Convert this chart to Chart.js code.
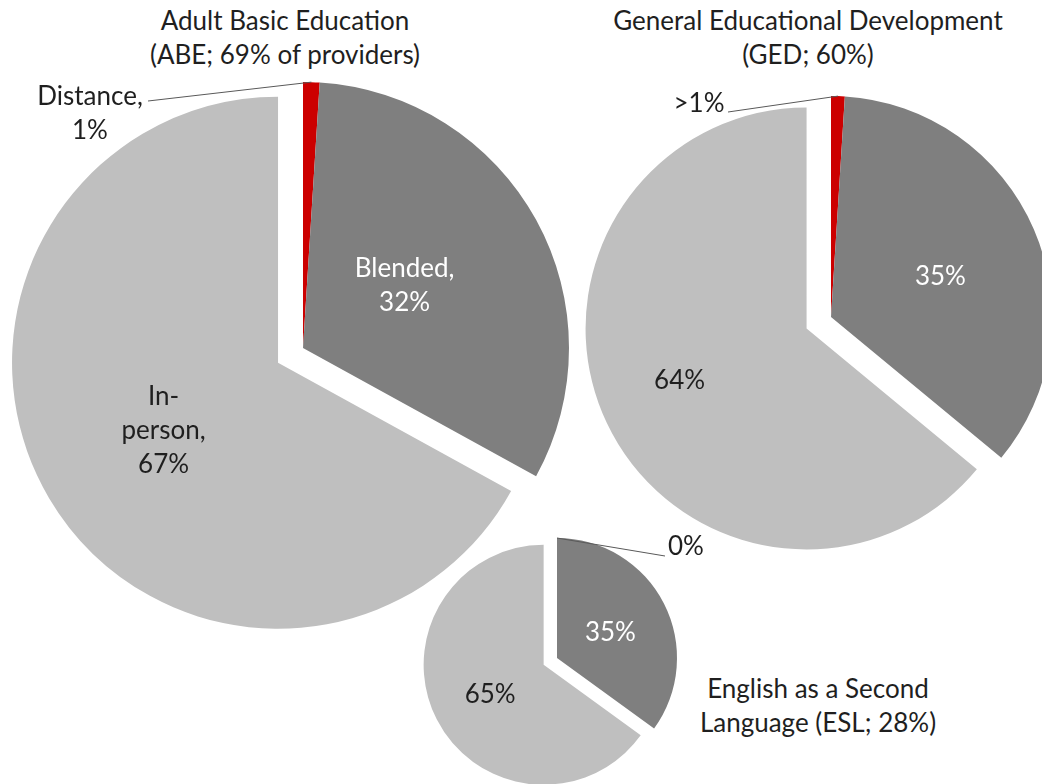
<!DOCTYPE html>
<html>
<head>
<meta charset="utf-8">
<script src="https://cdn.jsdelivr.net/npm/chart.js@4"></script>
<style>
	html, body { margin: 0; padding: 0; background: #fff; }
	body { position: relative; width: 1042px; height: 784px; overflow: hidden; font-family: Lato, "Open Sans", sans-serif; }
	canvas { position: absolute; }
	.title { position: absolute; width: 520px; text-align: center; font-size: 26px; line-height: 34px; color: #1f1f1f; white-space: nowrap; }
</style>
</head>
<body>
<div class="title" id="t-abe"></div>
<div class="title" id="t-ged"></div>
<div class="title" id="t-esl"></div>
<canvas id="abe" width="640" height="640"></canvas>
<canvas id="ged" width="520" height="520"></canvas>
<canvas id="esl" width="340" height="300"></canvas>
<script>
// delivery mode, same order in every pie
const modes = ["Distance", "Blended", "In-person"];

const abeValues = [1, 32, 67];
const gedValues = [1, 35, 64];
const eslValues = [0, 35, 65];

const abeText = [["Distance,", "1%"], ["Blended,", "32%"], ["In-", "person,", "67%"]];
const gedText = [[">1%"], ["35%"], ["64%"]];
const eslText = [["0%"], ["35%"], ["65%"]];

const abeTitle = ["Adult Basic Education", "(ABE; 69% of providers)"];
const gedTitle = ["General Educational Development", "(GED; 60%)"];
const eslTitle = ["English as a Second", "Language (ESL; 28%)"];

const colors = ["#cc0000", "#7f7f7f", "#bfbfbf"];
const textColors = ["#1f1f1f", "#ffffff", "#1f1f1f"];
const FONT = "26px Lato, 'Open Sans', sans-serif";
const LINE = 34;

// pull the exploded slice away from the centre (Chart.js offset also grows the radius)
const explodePlugin = {
	id: "explode",
	afterDatasetsUpdate(chart, args, opts) {
		const meta = chart.getDatasetMeta(0);
		(opts.shift || []).forEach(function(d, i) {
			const arc = meta.data[i];
			if (!d || !arc) return;
			const mid = (arc.startAngle + arc.endAngle) / 2;
			arc.x += Math.cos(mid) * d;
			arc.y += Math.sin(mid) * d;
		});
	}
};

const labelPlugin = {
	id: "sliceLabels",
	afterDatasetsDraw(chart, args, opts) {
		const ctx = chart.ctx;
		const meta = chart.getDatasetMeta(0);
		ctx.save();
		ctx.font = FONT;
		ctx.textAlign = "center";
		ctx.textBaseline = "middle";
		opts.text.forEach(function(lines, i) {
			const arc = meta.data[i];
			if (!arc) return;
			let x, y, color = textColors[i];
			const out = opts.outside && opts.outside[i];
			if (out) {
				const mid = (arc.startAngle + arc.endAngle) / 2;
				const ax = arc.x + Math.cos(mid) * arc.outerRadius;
				const ay = arc.y + Math.sin(mid) * arc.outerRadius;
				const cx = chart.width / 2, cy = chart.height / 2;
				ctx.strokeStyle = "#595959";
				ctx.lineWidth = 1;
				ctx.beginPath();
				ctx.moveTo(cx + out.lx, cy + out.ly);
				ctx.lineTo(ax, ay);
				ctx.stroke();
				x = cx + out.dx;
				y = cy + out.dy;
				color = "#1f1f1f";
			} else {
				const p = arc.tooltipPosition();
				const n = (opts.nudge && opts.nudge[i]) || [0, 0];
				x = p.x + n[0];
				y = p.y + n[1];
			}
			ctx.fillStyle = color;
			lines.forEach(function(s, k) {
				ctx.fillText(s, x, y + (k - (lines.length - 1) / 2) * LINE);
			});
		});
		ctx.restore();
	}
};

const makePie = function({id, cx, cy, radius, values, text, shift, outside, nudge}) {
	const canvas = document.getElementById(id);
	canvas.style.left = (cx - canvas.width / 2) + "px";
	canvas.style.top = (cy - canvas.height / 2) + "px";
	return new Chart(canvas.getContext("2d"), {
		type: "pie",
		data: {
			labels: modes,
			datasets: [{
				data: values,
				backgroundColor: colors,
				borderWidth: 0,
				radius: radius
			}]
		},
		options: {
			responsive: false,
			animation: false,
			layout: { padding: 0 },
			events: [],
			plugins: {
				legend: { display: false },
				tooltip: { enabled: false },
				explode: { shift: shift },
				sliceLabels: { text: text, outside: outside, nudge: nudge }
			}
		},
		plugins: [explodePlugin, labelPlugin]
	});
}

const setTitle = function(id, lines, cx, top) {
	const el = document.getElementById(id);
	el.innerHTML = lines.join("<br>");
	el.style.left = (cx - 260) + "px";
	el.style.top = top + "px";
}

setTitle("t-abe", abeTitle, 285, 3);
setTitle("t-ged", gedTitle, 808, 3);
setTitle("t-esl", eslTitle, 818, 671);

makePie({
	id: "abe", cx: 303, cy: 348, radius: 266, values: abeValues, text: abeText,
	shift: [0, 0, 29],
	outside: [{dx: -213, dy: -234, lx: -155, ly: -247}],
	nudge: [null, [-15, 2], [0, 0]]
});
makePie({
	id: "ged", cx: 831, cy: 317, radius: 221, values: gedValues, text: gedText,
	shift: [0, 0, 27],
	outside: [{dx: -132, dy: -213, lx: -103, ly: -205}],
	nudge: [null, [8, 3], [-27, 5]]
});
makePie({
	id: "esl", cx: 557, cy: 658, radius: 120, values: eslValues, text: eslText,
	shift: [0, 0, 15],
	outside: [{dx: 129, dy: -111, lx: 108, ly: -102}],
	nudge: [null, [0, 2], [0, 3]]
});
</script>
</body>
</html>
